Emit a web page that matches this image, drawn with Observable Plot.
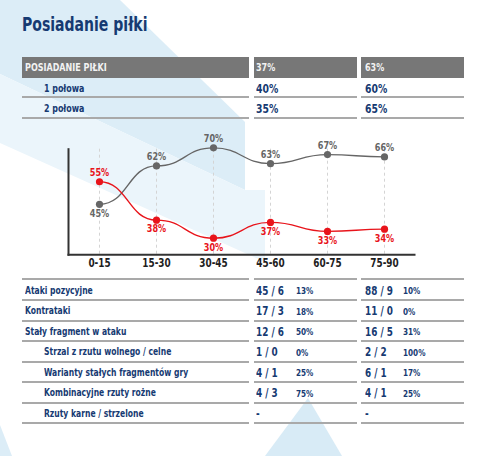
<!DOCTYPE html>
<html>
<head>
<meta charset="utf-8">
<script src="https://cdn.jsdelivr.net/npm/d3@7"></script>
<script src="https://cdn.jsdelivr.net/npm/@observablehq/plot@0.6"></script>
<style>
  html, body { margin: 0; padding: 0; background: #fff; }
  #page {
    position: relative; width: 484px; height: 456px; overflow: hidden; background: #fff;
    font-family: "Liberation Sans Narrow", "Arial Narrow", "DejaVu Sans Condensed", sans-serif;
    font-stretch: condensed; font-weight: bold; color: #163a72;
  }
  .abs { position: absolute; box-sizing: border-box; white-space: nowrap; }
  .sx { display: inline-block; transform-origin: 0 50%; }
  .hdr { background: #777777; height: 21px; top: 57px; }
  .rule { background: #a9a9a9; height: 2px; }
</style>
</head>
<body>
<div id="page">
  <svg class="abs" width="484" height="456" style="left:0;top:0">
    <polygon points="0,0 120,0 245,122 245,190 0,74" fill="#dcedf7"></polygon>
    <polygon points="0,74 245,190 265,190 265,262 0,143" fill="#ebf5fb"></polygon>
    <polygon points="308,398 265,456 342,456" fill="#d8ebf6"></polygon>
    <polygon points="0,425 12,456 0,456" fill="#dcedf7"></polygon>
  </svg>
  <div id="chart" class="abs" style="left:0;top:130px;width:484px;height:150px"></div>
</div>
<script>
// ---------- data ----------
const titleText = "Posiadanie piłki";

const possessionHeader = ["POSIADANIE PIŁKI", "37%", "63%"];
const halfLabels = ["1 połowa", "2 połowa"];
const halfTeamA = ["40%", "35%"];
const halfTeamB = ["60%", "65%"];

const intervals = ["0-15", "15-30", "30-45", "45-60", "60-75", "75-90"];
const greyValues = [45, 62, 70, 63, 67, 66];
const redValues = [55, 38, 30, 37, 33, 34];

const statLabels = [
  "Ataki pozycyjne",
  "Kontrataki",
  "Stały fragment w ataku",
  "Strzal z rzutu wolnego / celne",
  "Warianty stałych fragmentów gry",
  "Kombinacyjne rzuty rożne",
  "Rzuty karne / strzelone"
];
const statIndented = [false, false, false, true, true, true, true];
const statTeamA = ["45 / 6", "17 / 3", "12 / 6", "1 / 0", "4 / 1", "4 / 3", "-"];
const statTeamAPct = ["13%", "18%", "50%", "0%", "25%", "75%", ""];
const statTeamB = ["88 / 9", "11 / 0", "16 / 5", "2 / 2", "6 / 1", "4 / 1", "-"];
const statTeamBPct = ["10%", "0%", "31%", "100%", "17%", "25%", ""];

// ---------- layout helpers ----------
const page = document.getElementById("page");

function box(cls, style) {
  const d = document.createElement("div");
  d.className = "abs " + cls;
  Object.assign(d.style, style);
  page.appendChild(d);
  return d;
}
function txt(left, top, h, text, size, color, scale, padTop = 0) {
  const d = box("", {left: left + "px", top: (top + padTop) + "px", height: h + "px", lineHeight: h + "px",
    fontSize: size + "px", color: color || ""});
  const s = document.createElement("span");
  s.className = "sx";
  s.style.transform = `scaleX(${scale})`;
  s.textContent = text;
  d.appendChild(s);
  return d;
}

const cols = [{left: 22, width: 227, pad: 3}, {left: 254, width: 103, pad: 2}, {left: 361, width: 103, pad: 3.5}];

// title
txt(22, 10, 28, titleText, 20, "#163a72", 0.78);

// header row
possessionHeader.forEach((t, j) => {
  box("hdr", {left: cols[j].left + "px", width: cols[j].width + "px"});
  txt(cols[j].left + cols[j].pad, 57, 21, t, 10.5, "#f2f2f2", 0.85);
});

// half rows
const halfTop = 78, halfH = 20.3;
halfLabels.forEach((lab, i) => {
  const top = halfTop + i * halfH;
  cols.forEach(c => box("rule", {left: c.left + "px", width: c.width + "px", top: (top + halfH - 2) + "px"}));
  txt(cols[0].left + 22, top, halfH - 2, lab, 11, null, 0.8, 1.5);
  txt(cols[1].left + cols[1].pad, top, halfH - 2, halfTeamA[i], 12, null, 0.86, 1.5);
  txt(cols[2].left + cols[2].pad, top, halfH - 2, halfTeamB[i], 12, null, 0.86, 1.5);
});

// stats table
const statTop = 280.6, statH = 20.53;
cols.forEach(c => box("rule", {left: c.left + "px", width: c.width + "px", top: (statTop - 2.3) + "px"}));
statLabels.forEach((lab, i) => {
  const top = statTop + i * statH;
  cols.forEach(c => box("rule", {left: c.left + "px", width: c.width + "px", top: (top + statH - 2) + "px"}));
  txt(cols[0].left + (statIndented[i] ? 22 : 3), top, statH - 2, lab, 11, null, 0.77, 1);
  [[statTeamA, statTeamAPct], [statTeamB, statTeamBPct]].forEach(([v, p], k) => {
    const c = cols[k + 1];
    txt(c.left + c.pad, top, statH - 2, v[i], 12, null, 0.82, 1);
    if (p[i]) txt(c.left + 42, top, statH - 2, p[i], 9.5, null, 0.85, 1.5);
  });
});

// ---------- chart ----------
const seriesDefs = [
  {key: "grey", values: greyValues, other: redValues, color: "#666666"},
  {key: "red", values: redValues, other: greyValues, color: "#e8141b"}
];

const marks = [
  Plot.ruleX(intervals, {x: d => d, stroke: "#d4d4d4", strokeWidth: 1, strokeDasharray: "3,3"}),
  Plot.frame({anchor: "left", stroke: "#333", strokeWidth: 2}),
  Plot.frame({anchor: "bottom", stroke: "#333", strokeWidth: 2}),
  Plot.axisX({tickSize: 0, tickPadding: 4.5, fontSize: 11.5, fontWeight: "bold", fill: "#1e1e1e", label: null})
];

seriesDefs.forEach(s => {
  const rows = intervals.map((t, i) => ({interval: t, value: s.values[i], above: s.values[i] >= s.other[i]}));
  marks.push(
    Plot.line(rows, {x: "interval", y: "value", stroke: s.color, strokeWidth: 1.4, curve: "bump-x"}),
    Plot.dot(rows, {x: "interval", y: "value", fill: s.color, r: 3.6, stroke: "none"}),
    Plot.text(rows.filter(d => d.above), {x: "interval", y: "value", text: d => d.value + "%", fill: s.color,
      dy: -9, fontSize: 10.5, fontWeight: "bold", lineAnchor: "middle"}),
    Plot.text(rows.filter(d => !d.above), {x: "interval", y: "value", text: d => d.value + "%", fill: s.color,
      dy: 9, fontSize: 10.5, fontWeight: "bold", lineAnchor: "middle"})
  );
});

const chart = Plot.plot({
  width: 484,
  height: 150,
  marginLeft: 68,
  marginRight: 70,
  marginTop: 18.7,
  marginBottom: 25.7,
  style: {background: "transparent", overflow: "visible",
    fontFamily: '"Liberation Sans Narrow", "Arial Narrow", "DejaVu Sans Condensed", sans-serif'},
  x: {type: "point", domain: intervals, padding: 0.5},
  y: {domain: [22.65, 69.4], axis: null},
  marks
});

// condense the chart texts horizontally around their anchor (x only)
chart.querySelectorAll("text").forEach(t => {
  const tr = t.getAttribute("transform");
  if (tr) t.setAttribute("transform", `${tr} scale(0.86,1)`);
});
document.getElementById("chart").appendChild(chart);
</script>
</body>
</html>
